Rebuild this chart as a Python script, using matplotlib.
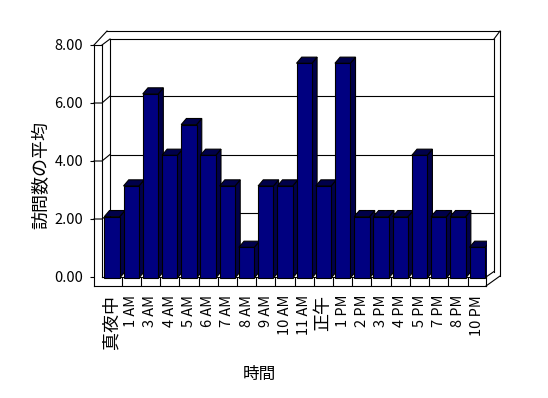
import numpy as np
import matplotlib
matplotlib.use('Agg')
import matplotlib.pyplot as plt

plt.rcParams['font.family'] = ['Noto Sans CJK JP', 'DejaVu Sans']

# data
hours = ['真夜中', '1 AM', '3 AM', '4 AM', '5 AM', '6 AM', '7 AM', '8 AM', '9 AM', '10 AM',
         '11 AM', '正午', '1 PM', '2 PM', '3 PM', '4 PM', '5 PM', '7 PM', '8 PM', '10 PM']
visits = [2, 3, 6, 4, 5, 4, 3, 1, 3, 3, 7, 3, 7, 2, 2, 2, 4, 2, 2, 1]
y_ticks = [0, 2, 4, 6, 8]
y_title = '訪問数の平均'
x_title = '時間'

W, H = 548, 398
fig = plt.figure(figsize=(W / 100, H / 100), dpi=100)
fig.patch.set_facecolor('white')


def box(x0, y0, x1, y1):
    # pixel box (origin top-left) -> figure fraction
    return [x0 / W, 1 - y1 / H, (x1 - x0) / W, (y1 - y0) / H]


lw = 0.8

# frame of the 3d box (walls + floor slab), pixel coordinates
fr = fig.add_axes([0, 0, 1, 1])
fr.set_xlim(0, W)
fr.set_ylim(H, 0)
fr.axis('off')
frame = [
    ([94, 94], [45, 286]), ([102, 102], [45, 277]), ([94, 102], [45, 45]),
    ([94, 107], [45, 31]), ([102, 110], [45, 39]),
    ([107, 500], [31, 31]), ([110, 494], [39, 39]), ([494, 500], [39, 31]),
    ([500, 500], [31, 276]), ([494, 494], [39, 271.5]), ([110, 110], [39, 271.5]),
    ([94, 486], [286, 286]), ([102, 486], [277, 277]), ([486, 486], [277, 286]),
    ([486, 500], [286, 276]), ([486, 494], [277, 271.5]),
]
for xs, ys in frame:
    fr.plot(xs, ys, color='k', lw=lw, solid_capstyle='projecting')
# grid ticks on the left wall
for g in y_ticks[1:-1]:
    yf = 277 - 29 * g
    yb = 271.5 - 29.25 * g
    fr.plot([94, 102, 110], [yf, yf, yb], color='k', lw=lw)

# back wall gridlines
wall = fig.add_axes(box(110, 39, 494, 271.5))
wall.set_xlim(0, 1)
wall.set_ylim(0, 7.95)
wall.axis('off')
for g in y_ticks[1:-1]:
    wall.axhline(g, color='k', lw=lw)

# value axis labels on the front-left edge
lax = fig.add_axes(box(94, 45, 95, 277))
lax.set_ylim(0, 8)
lax.set_yticks(y_ticks)
lax.set_yticklabels(['%.2f' % t for t in y_ticks], fontsize=10.5)
lax.set_xticks([])
lax.tick_params(axis='y', length=2.9, width=lw, pad=4.8)
for s in lax.spines.values():
    s.set_visible(False)
lax.patch.set_visible(False)
lax.set_ylabel(y_title, fontsize=13)
lax.yaxis.set_label_coords(50 / W, 1 - 175 / H, transform=fig.transFigure)

# bars
ax = fig.add_axes(box(102.4, 32.6, 486.8, 287.2))
ax.set_xlim(-0.5, 19.5)
ax.set_ylim(-0.3, 8)
ax.patch.set_visible(False)
for s in ax.spines.values():
    s.set_visible(False)

x = np.arange(len(hours))
bw = 0.8
dx, dy = 0.27, 0.2
side_col = '#00004a'
for xi, v in zip(x, visits):
    l, r = xi - bw / 2, xi + bw / 2
    ax.fill([r, r + dx, r + dx, r], [0, dy, v + dy, v], color=side_col, ec='k', lw=lw, zorder=2)
    ax.fill([l, l + dx, r + dx, r], [v, v + dy, v + dy, v], color=side_col, ec='k', lw=lw, zorder=2)
ax.bar(x, visits, width=bw, color='#000080', edgecolor='k', linewidth=lw, zorder=3)

# floor cell separators
ax.vlines(x[:-1] + 0.5, -0.26, 0.03, colors='k', lw=lw)

ax.set_yticks([])
ax.set_xticks(x)
ax.set_xticklabels(hours, rotation=90)
ax.tick_params(axis='x', length=0, pad=5.6)
for lbl in ax.get_xticklabels():
    if lbl.get_text().isascii():
        lbl.set_fontsize(10.5)
    else:
        lbl.set_fontsize(13)
ax.set_xlabel(x_title, fontsize=12)
ax.xaxis.set_label_coords(259 / W, 1 - 366 / H, transform=fig.transFigure)

fig.savefig('out.png', dpi=100, facecolor='white')
